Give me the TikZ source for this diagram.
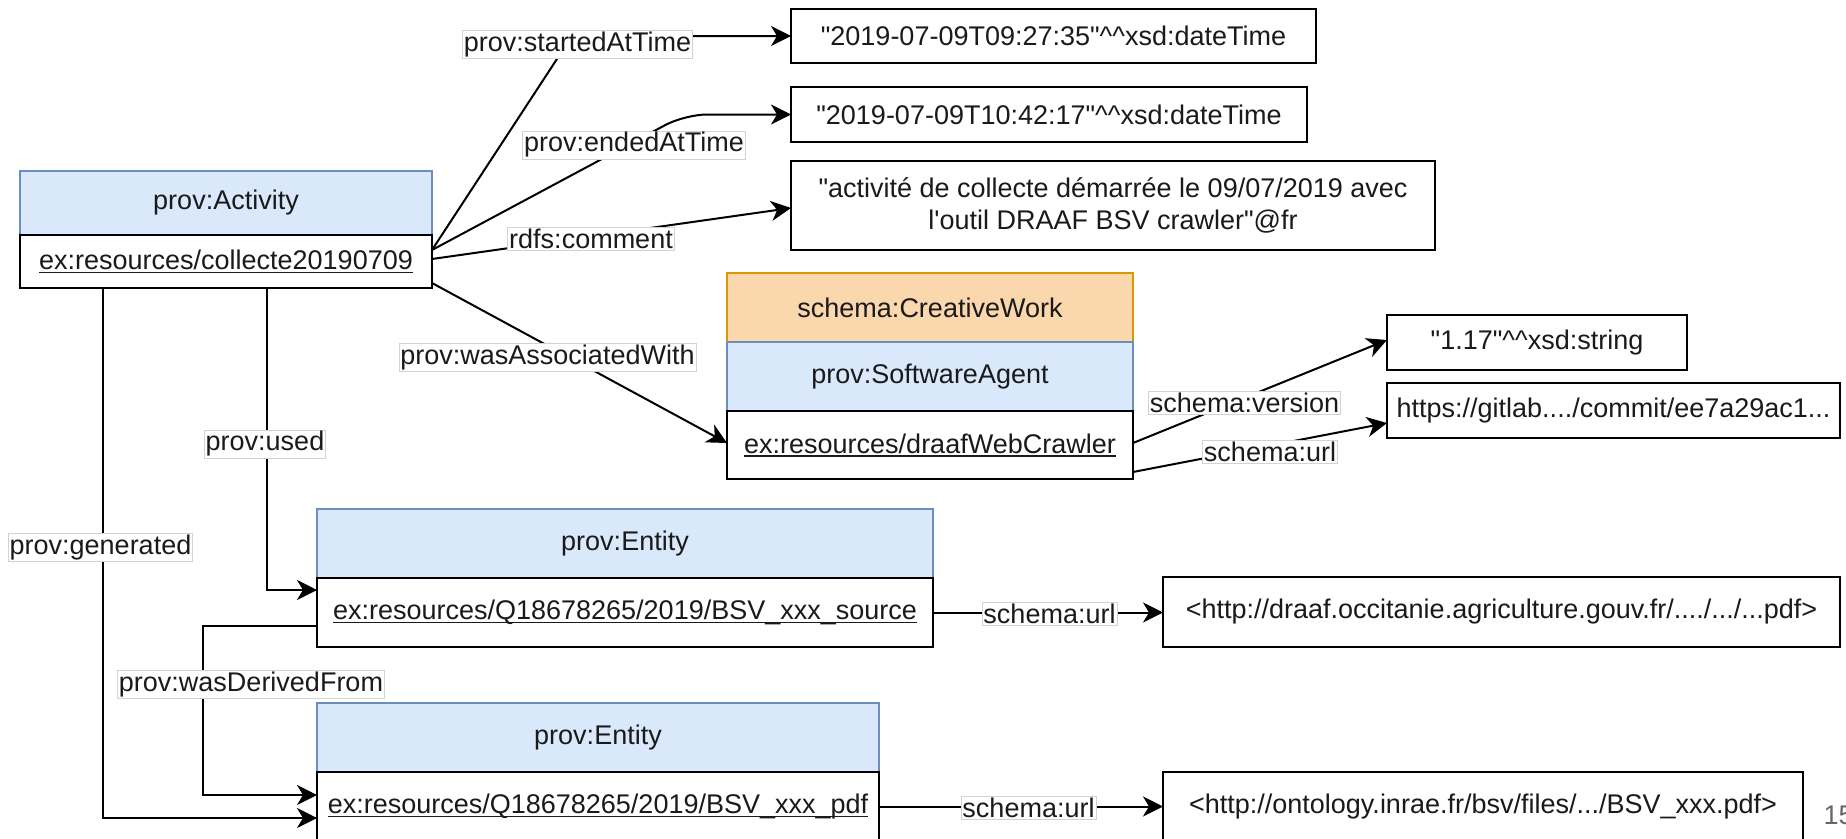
\documentclass[tikz,border=0pt]{standalone}
\usepackage{fontspec}
\setmainfont{Liberation Sans}[Ligatures=TeXOff]
\usetikzlibrary{arrows.meta}
\definecolor{bluefill}{HTML}{DAE8FC}
\definecolor{bluedraw}{HTML}{6C8EBF}
\definecolor{orfill}{HTML}{FAD7AC}
\definecolor{ordraw}{HTML}{D79B00}
\definecolor{txt}{HTML}{1A1A1A}
\newcommand{\myul}[1]{\setbox0\hbox{#1}\rlap{\rule[-3.5pt]{\wd0}{1.4pt}}\box0}
\tikzset{
  every node/.style={font=\fontsize{27}{32}\selectfont, text=txt},
  boxbase/.style={rectangle, inner sep=0pt, outer sep=0pt, line width=2pt},
  hdr/.style={boxbase, fill=bluefill, draw=bluedraw, line width=1.6pt},
  hdro/.style={boxbase, fill=orfill, draw=ordraw, line width=1.6pt},
  bodybox/.style={boxbase, fill=white, draw=black},
  litbox/.style={boxbase, fill=white, draw=black, align=center},
  lbl/.style={rectangle, fill=white, draw=gray!35, line width=0.8pt, inner sep=1.5pt, outer sep=0pt},
  edge/.style={line width=2pt, draw=black, -{Stealth[length=20pt,width=20pt,inset=6pt]}},
  plain/.style={line width=2pt, draw=black}
}
\begin{document}
\begin{tikzpicture}[x=1pt,y=-1pt]
\useasboundingbox (0,0) rectangle (1846,838);
\fill[white] (0,0) rectangle (1846,838);

% Activity
\node[hdr, minimum width=412pt, minimum height=64pt] (acth) at (226,203) {prov:Activity};
\node[bodybox, minimum width=412pt, minimum height=53pt] (actb) at (226,261.5) {\myul{ex:resources/collecte20190709}};

% literals
\node[litbox, minimum width=525pt, minimum height=54pt] (L1) at (1053.5,36) {"2019-07-09T09:27:35"\textasciicircum\textasciicircum xsd:dateTime};
\node[litbox, minimum width=516pt, minimum height=55pt] (L2) at (1049,114.5) {"2019-07-09T10:42:17"\textasciicircum\textasciicircum xsd:dateTime};
\node[litbox, minimum width=644pt, minimum height=89pt] (L3) at (1113,205.5) {"activité de collecte démarrée le 09/07/2019 avec\\l'outil DRAAF BSV crawler"@fr};

% software agent
\node[hdro, minimum width=406pt, minimum height=69pt] (CW) at (930,307.5) {schema:CreativeWork};
\node[hdr, minimum width=406pt, minimum height=69pt] (SA) at (930,376.5) {prov:SoftwareAgent};
\node[bodybox, minimum width=406pt, minimum height=68pt] (DR) at (930,445) {\myul{ex:resources/draafWebCrawler}};
\node[litbox, minimum width=300pt, minimum height=55pt] (V) at (1537,342.5) {"1.17"\textasciicircum\textasciicircum xsd:string};
\node[litbox, minimum width=453pt, minimum height=55pt] (G) at (1613.5,410.5) {https://gitlab..../commit/ee7a29ac1...};

% entities
\node[hdr, minimum width=616pt, minimum height=69pt] (E1h) at (625,543.5) {prov:Entity};
\node[bodybox, minimum width=616pt, minimum height=69pt] (E1b) at (625,612.5) {\myul{ex:resources/Q18678265/2019/BSV\_xxx\_source}};
\node[hdr, minimum width=562pt, minimum height=69pt] (E2h) at (598,737.5) {prov:Entity};
\node[bodybox, minimum width=562pt, minimum height=69pt] (E2b) at (598,806.5) {\raisebox{1.5pt}{\myul{ex:resources/Q18678265/2019/BSV\_xxx\_pdf}}};

\node[litbox, minimum width=677pt, minimum height=70pt] (U1) at (1501.5,612) {<http://draaf.occitanie.agriculture.gouv.fr/..../.../...pdf>};
\node[litbox, minimum width=640pt, minimum height=69pt] (U2) at (1483,806.5) {\raisebox{1.5pt}{<http://ontology.inrae.fr/bsv/files/.../BSV\_xxx.pdf>}};

\node[anchor=west, text=gray!80!black] (pg) at (1820,815) {15};

% edges
\draw[edge] ([yshift=11.5pt]actb.east) -- (572,36) -- (L1.west);
\draw[edge, rounded corners=22pt] ([yshift=11.5pt]actb.east) -- (685,114.5) -- (L2.west);
\draw[edge] ([yshift=2.5pt]actb.east) -- ([yshift=-2.5pt]L3.west);
\draw[edge] ([yshift=5pt]actb.south east) -- ([yshift=2pt]DR.west);
\draw[edge] ([xshift=41pt]actb.south) |- ([yshift=22.5pt]E1b.west);
\draw[edge] ([xshift=-123pt]actb.south) |- ([yshift=-11.5pt]E2b.west);
\draw[edge] ([yshift=-13.5pt]E1b.west) -- ++(-114,0) |- ([yshift=11.5pt]E2b.west);
\draw[edge] (E1b.east) -- (E1b.east -| U1.west);
\draw[edge] (E2b.east) -- (E2b.east -| U2.west);
\draw[edge] ([yshift=2pt]DR.east) -- ([yshift=2.5pt]V.west);
\draw[edge] ([yshift=-27pt]DR.east) -- ([yshift=-12.5pt]G.west);

% edge labels
\node[lbl] (l1) at (577.5,44.5) {prov:startedAtTime};
\node[lbl] (l2) at (634,145) {prov:endedAtTime};
\node[lbl] (l3) at (591,239) {rdfs:comment};
\node[lbl] (l4) at (547.5,357.5) {prov:wasAssociatedWith};
\node[lbl] (l5) at (265,444) {prov:used};
\node[lbl] (l6) at (100.5,547.5) {prov:generated};
\node[lbl] (l7) at (251,684.5) {prov:wasDerivedFrom};
\node[lbl] (l8) at (1049.5,613.5) {schema:url};
\node[lbl] (l9) at (1028.5,808) {schema:url};
\node[lbl] (l10) at (1244.5,403) {schema:version};
\node[lbl] (l11) at (1270,452) {schema:url};
\end{tikzpicture}
\end{document}
